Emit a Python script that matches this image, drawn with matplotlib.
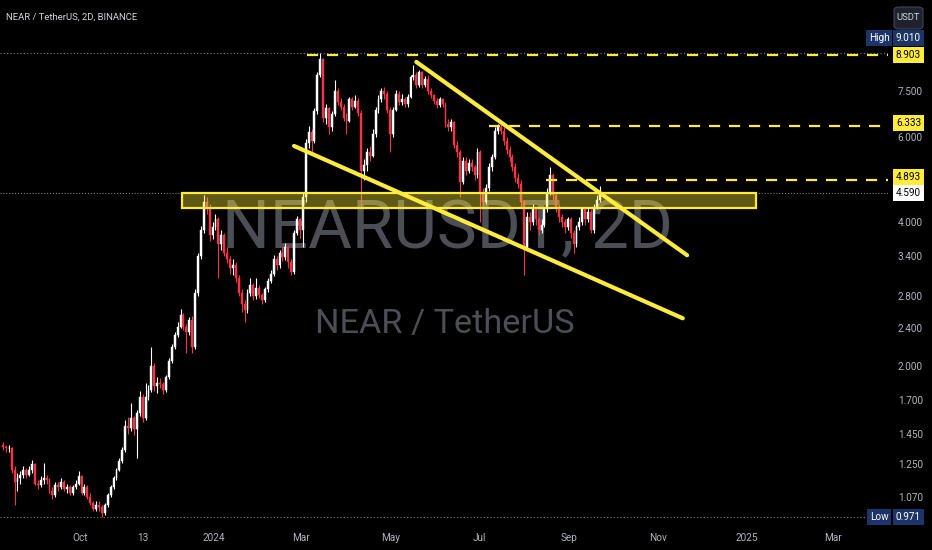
import datetime as dt
import matplotlib
matplotlib.use("Agg")
import matplotlib.pyplot as plt
import matplotlib.dates as mdates
import matplotlib.transforms as mtransforms
from matplotlib import font_manager
from matplotlib.ticker import NullLocator, NullFormatter
from matplotlib.patches import Rectangle, FancyBboxPatch
from matplotlib.font_manager import FontProperties

# NEAR / USDT, 2-day candles
first_candle = dt.date(2023, 8, 9)
first_open = 1.37
closes = [
    1.36, 1.35, 1.35, 1.22, 1.15, 1.17, 1.19, 1.22, 1.19, 1.22,
    1.25, 1.14, 1.13, 1.16, 1.17, 1.16, 1.10, 1.08, 1.13, 1.12,
    1.15, 1.11, 1.12, 1.09, 1.12, 1.14, 1.18, 1.09, 1.12, 1.07,
    1.04, 1.01, 1.03, 1.02, 0.99, 1.03, 1.08, 1.12, 1.17, 1.22,
    1.27, 1.34, 1.50, 1.49, 1.56, 1.48, 1.60, 1.73, 1.56, 1.73,
    1.79, 2.00, 1.82, 1.85, 1.84, 1.79, 1.90, 2.05, 2.20, 2.33,
    2.42, 2.56, 2.42, 2.36, 2.50, 2.20, 2.85, 3.40, 3.85, 4.40,
    4.30, 3.75, 3.90, 4.05, 3.60, 3.75, 3.45, 3.35, 3.20, 3.25,
    3.05, 2.85, 2.70, 2.62, 2.85, 2.95, 2.80, 2.92, 2.82, 2.75,
    2.90, 3.02, 3.12, 3.35, 3.25, 3.45, 3.38, 3.55, 3.30, 3.15,
    3.80, 4.05, 3.85, 4.50, 5.85, 6.15, 5.90, 6.80, 8.10, 8.75,
    6.60, 6.90, 6.30, 6.70, 7.50, 7.10, 6.95, 6.60, 6.50, 7.20,
    6.95, 7.15, 6.75, 5.10, 5.25, 5.60, 5.50, 6.10, 6.85, 7.20,
    7.50, 7.40, 6.85, 6.10, 6.85, 7.40, 7.10, 7.20, 7.05, 7.30,
    8.00, 8.10, 7.70, 8.20, 7.70, 7.95, 7.50, 7.35, 7.15, 7.00,
    7.20, 7.05, 6.40, 6.30, 6.45, 5.80, 5.60, 4.85, 5.35, 5.10,
    5.30, 5.20, 5.00, 5.60, 4.60, 4.40, 4.70, 5.20, 5.45, 6.20,
    6.30, 6.20, 5.90, 5.65, 5.45, 5.20, 4.95, 4.80, 4.40, 3.55,
    4.10, 4.00, 4.25, 4.05, 3.85, 3.95, 4.25, 4.60, 5.00, 4.55,
    4.30, 4.10, 4.00, 3.90, 4.05, 3.80, 3.60, 3.90, 4.00, 4.25,
    4.05, 4.20, 3.85, 4.30, 4.45, 4.59,
]
highs = [
    1.39, 1.37, 1.37, 1.36, 1.24, 1.20, 1.21, 1.24, 1.23, 1.24,
    1.28, 1.26, 1.16, 1.18, 1.26, 1.19, 1.17, 1.12, 1.15, 1.15,
    1.17, 1.16, 1.14, 1.13, 1.13, 1.16, 1.21, 1.19, 1.14, 1.13,
    1.09, 1.05, 1.05, 1.05, 1.03, 1.04, 1.09, 1.13, 1.18, 1.23,
    1.29, 1.36, 1.55, 1.57, 1.68, 1.58, 1.62, 1.78, 1.75, 1.85,
    1.83, 2.20, 2.03, 1.90, 1.89, 1.86, 1.92, 2.08, 2.23, 2.36,
    2.47, 2.63, 2.58, 2.45, 2.53, 2.55, 2.90, 3.45, 3.92, 4.55,
    4.50, 4.35, 4.00, 4.15, 4.10, 3.85, 3.80, 3.55, 3.40, 3.35,
    3.30, 3.10, 2.90, 2.75, 2.90, 3.05, 2.98, 3.05, 2.95, 2.85,
    2.93, 3.06, 3.18, 3.42, 3.40, 3.50, 3.55, 3.62, 3.58, 3.35,
    3.85, 4.12, 4.08, 4.60, 5.95, 6.35, 6.25, 6.90, 8.20, 9.01,
    8.80, 7.05, 6.95, 6.80, 7.90, 7.60, 7.25, 7.05, 6.75, 7.30,
    7.30, 7.35, 7.25, 6.85, 5.40, 5.70, 5.75, 6.25, 6.95, 7.35,
    7.60, 7.65, 7.50, 6.95, 6.95, 7.55, 7.50, 7.40, 7.30, 7.40,
    8.10, 8.50, 8.20, 8.30, 8.25, 8.05, 8.10, 7.60, 7.40, 7.25,
    7.30, 7.25, 7.10, 6.55, 6.55, 6.50, 5.90, 5.65, 5.45, 5.45,
    5.40, 5.40, 5.25, 5.70, 5.65, 4.70, 4.80, 5.30, 5.55, 6.30,
    6.40, 6.40, 6.30, 6.00, 5.75, 5.55, 5.30, 5.05, 4.90, 4.45,
    4.20, 4.20, 4.35, 4.30, 4.10, 4.05, 4.30, 4.70, 5.20, 5.05,
    4.60, 4.35, 4.15, 4.05, 4.10, 4.10, 3.85, 3.95, 4.10, 4.30,
    4.30, 4.30, 4.25, 4.35, 4.55, 4.75,
]
lows = [
    1.34, 1.33, 1.33, 1.20, 1.03, 1.10, 1.14, 1.17, 1.17, 1.18,
    1.20, 1.13, 1.11, 1.12, 1.14, 1.14, 1.09, 1.06, 1.07, 1.10,
    1.11, 1.10, 1.09, 1.08, 1.08, 1.11, 1.13, 1.08, 1.08, 1.06,
    1.03, 1.00, 1.00, 1.00, 0.971, 0.98, 1.02, 1.07, 1.11, 1.16,
    1.21, 1.26, 1.33, 1.45, 1.47, 1.44, 1.29, 1.58, 1.53, 1.55,
    1.70, 1.77, 1.78, 1.76, 1.80, 1.75, 1.77, 1.88, 2.03, 2.18,
    2.30, 2.40, 2.38, 2.13, 2.33, 2.13, 2.18, 2.80, 3.35, 3.80,
    4.15, 3.65, 3.68, 3.85, 3.05, 3.50, 3.40, 3.28, 3.12, 3.10,
    3.00, 2.80, 2.60, 2.47, 2.58, 2.80, 2.75, 2.77, 2.78, 2.70,
    2.72, 2.86, 2.98, 3.08, 3.18, 3.20, 3.32, 3.33, 3.20, 3.10,
    3.12, 3.75, 3.70, 3.55, 4.40, 5.70, 5.55, 5.85, 6.70, 8.00,
    6.45, 6.40, 6.10, 6.20, 6.65, 7.00, 6.85, 6.50, 6.10, 6.45,
    6.85, 6.90, 6.65, 4.30, 4.90, 5.10, 5.35, 5.45, 6.00, 6.75,
    7.10, 7.20, 6.75, 5.60, 6.00, 6.80, 7.00, 7.00, 6.95, 6.95,
    7.25, 7.90, 7.60, 7.65, 7.60, 7.65, 7.40, 7.25, 7.05, 6.90,
    6.95, 6.95, 6.30, 6.20, 6.20, 5.70, 5.45, 4.50, 4.80, 5.00,
    5.05, 5.10, 4.90, 4.95, 4.00, 4.30, 4.35, 4.65, 5.10, 5.40,
    6.10, 6.10, 5.80, 5.55, 5.35, 5.10, 4.85, 4.70, 4.30, 3.10,
    3.50, 3.85, 3.95, 3.95, 3.75, 3.80, 3.90, 4.20, 4.55, 4.45,
    4.20, 4.00, 3.90, 3.80, 3.85, 3.70, 3.45, 3.55, 3.85, 3.95,
    3.95, 4.00, 3.80, 3.80, 4.25, 4.40,
]

# drawings
level_prices = [8.903, 6.333, 4.893]
level_starts = [dt.date(2024, 3, 5), dt.date(2024, 7, 8), dt.date(2024, 8, 16)]
zone_low, zone_high = 4.28, 4.60
zone_start, zone_end = dt.date(2023, 12, 10), dt.date(2025, 1, 7)
upper_line = [(dt.date(2024, 5, 19), 8.62), (dt.date(2024, 11, 21), 3.41)]
lower_line = [(dt.date(2024, 2, 25), 5.76), (dt.date(2024, 11, 18), 2.52)]
high_price, low_price, last_price = 9.010, 0.971, 4.590

price_ticks = [7.5, 6.0, 4.0, 3.4, 2.8, 2.4, 2.0, 1.7, 1.45, 1.25, 1.07]
date_ticks = [dt.date(2023, 10, 1), dt.date(2023, 11, 13), dt.date(2024, 1, 1),
              dt.date(2024, 3, 1), dt.date(2024, 5, 1), dt.date(2024, 7, 1),
              dt.date(2024, 9, 1), dt.date(2024, 11, 1), dt.date(2025, 1, 1),
              dt.date(2025, 3, 1)]
date_labels = ["Oct", "13", "2024", "Mar", "May", "Jul", "Sep", "Nov", "2025", "Mar"]

UP = "#ffffff"
DOWN = "#f23645"
YELLOW = "#ffeb3b"
TXT = "#b2b5be"
NAVY = "#1c3468"


def pick_font(names):
    for name in names:
        try:
            font_manager.findfont(FontProperties(family=name), fallback_to_default=False)
            return name
        except ValueError:
            continue
    return "DejaVu Sans"


FONT = pick_font(["Liberation Sans Narrow", "Roboto", "DejaVu Sans"])
NARROW = FONT == "Liberation Sans Narrow"
plt.rcParams["font.family"] = [FONT, "DejaVu Sans"]

W, H = 932, 550
fig = plt.figure(figsize=(W / 100, H / 100), dpi=100, facecolor="black")
ax = fig.add_axes([0, 23 / H, 888 / W, 527 / H])
ax.set_facecolor("black")
ax.set_yscale("log")

opens = [first_open] + closes[:-1]
x = mdates.date2num([first_candle + dt.timedelta(days=2 * i) for i in range(len(closes))])
colors = [UP if c >= o else DOWN for o, c in zip(opens, closes)]
bottoms = [min(o, c) for o, c in zip(opens, closes)]
heights = [abs(c - o) for o, c in zip(opens, closes)]

# watermark, behind the candles
k = 1.0 if NARROW else 0.85
ax.text(447 / 888, 1 - 248 / 527, "NEARUSDT, 2D", transform=ax.transAxes,
        ha="center", va="baseline", fontsize=57 * k, color="#4c4e56", zorder=0.5)
ax.text(445 / 888, 1 - 333 / 527, "NEAR / TetherUS", transform=ax.transAxes,
        ha="center", va="baseline", fontsize=29 * k, color="#4c4e56", zorder=0.5)

ax.vlines(x, lows, highs, colors=colors, lw=0.8, zorder=2)
ax.bar(x, heights, bottom=bottoms, width=1.3, color=colors, edgecolor=colors,
       lw=0.3, zorder=3)

# high / low / last price lines
ax.axhline(high_price, color="#787b86", lw=0.8, ls=(0, (1, 2)), zorder=1)
ax.axhline(low_price, color="#787b86", lw=0.8, ls=(0, (1, 2)), zorder=1)
ax.axhline(last_price, color="#9598a1", lw=0.7, ls=(0, (1, 2)), zorder=1)

# resistance levels
xmax = mdates.date2num(dt.date(2025, 4, 8))
for p, d in zip(level_prices, level_starts):
    ax.hlines(p, mdates.date2num(d), xmax, colors=YELLOW, lw=1.6,
              linestyles=(0, (5, 4)), zorder=4)

# support / resistance zone
z0, z1 = mdates.date2num(zone_start), mdates.date2num(zone_end)
ax.add_patch(Rectangle((z0, zone_low), z1 - z0, zone_high - zone_low,
                       fc=(1, 0.92, 0.23, 0.38), ec=YELLOW, lw=1.6, zorder=5))

# wedge lines
for line in (upper_line, lower_line):
    ax.plot(mdates.date2num([p[0] for p in line]), [p[1] for p in line],
            color=YELLOW, lw=3, solid_capstyle="round", zorder=6)

ax.set_xlim(mdates.date2num(dt.date(2023, 8, 7)), xmax)
ax.set_ylim(0.926, 11.6)

lab = 8.5 * k
ax.yaxis.tick_right()
ax.set_yticks(price_ticks)
ax.set_yticklabels([f"{p:.3f}" for p in price_ticks])
ax.yaxis.set_minor_locator(NullLocator())
ax.yaxis.set_minor_formatter(NullFormatter())
ax.tick_params(axis="y", length=0, pad=7, labelcolor=TXT, labelsize=lab)
ax.set_xticks(mdates.date2num(date_ticks))
ax.set_xticklabels(date_labels)
ax.tick_params(axis="x", length=0, pad=4, labelcolor=TXT, labelsize=lab)
for s in ax.spines.values():
    s.set_visible(False)


# price tags on the right scale
def tag(price, text, face, color, xpix=908.5, dy=0):
    tr = mtransforms.blended_transform_factory(fig.transFigure, ax.transData)
    tr = tr + mtransforms.ScaledTranslation(0, dy / 100, fig.dpi_scale_trans)
    ax.text(xpix / W, price, text, transform=tr, ha="center", va="center",
            fontsize=lab, color=color, zorder=10, clip_on=False,
            bbox=dict(boxstyle="square,pad=0.3", fc=face, ec="none"))


tag(high_price, "9.010", NAVY, "white", dy=15)
tag(high_price, "High", NAVY, "white", xpix=879, dy=15)
tag(8.903, "8.903", YELLOW, "black")
tag(6.333, "6.333", YELLOW, "black", dy=3)
tag(4.893, "4.893", YELLOW, "black", dy=3)
tag(last_price, "4.590", "white", "black")
tag(low_price, "0.971", NAVY, "white")
tag(low_price, "Low", NAVY, "white", xpix=879)

fig.patches.append(FancyBboxPatch((894 / W, 521 / H), 29 / W, 22 / H,
                                  boxstyle="round,pad=0,rounding_size=0.006",
                                  transform=fig.transFigure, fc="#1e222d",
                                  ec="#434651", lw=0.8))
fig.text(908.5 / W, 532 / H, "USDT", ha="center", va="center", fontsize=8 * k,
         color="#d1d4dc")

fig.text(6 / W, 533 / H, "NEAR / TetherUS, 2D, BINANCE", ha="left", va="center",
         fontsize=8 * k, color="#d1d4dc")

fig.savefig("out.png", dpi=100, facecolor="black")
